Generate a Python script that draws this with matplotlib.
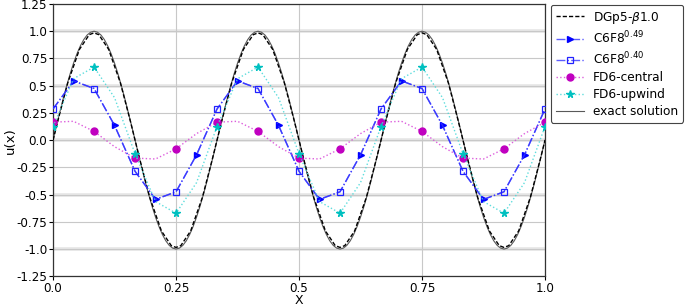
import matplotlib
matplotlib.use("Agg")
import matplotlib.pyplot as plt
import numpy as np

# ---------------- data ----------------
# exact solution (fine sampling, step 1/144)
exact_x = [i / 144 for i in range(145)]
exact_y = [
    0.000, 0.131, 0.259, 0.383, 0.500, 0.609, 0.707, 0.793, 0.866, 0.924, 0.966, 0.991,
    1.000, 0.991, 0.966, 0.924, 0.866, 0.793, 0.707, 0.609, 0.500, 0.383, 0.259, 0.131,
    0.000, -0.131, -0.259, -0.383, -0.500, -0.609, -0.707, -0.793, -0.866, -0.924, -0.966, -0.991,
    -1.000, -0.991, -0.966, -0.924, -0.866, -0.793, -0.707, -0.609, -0.500, -0.383, -0.259, -0.131,
    0.000, 0.131, 0.259, 0.383, 0.500, 0.609, 0.707, 0.793, 0.866, 0.924, 0.966, 0.991,
    1.000, 0.991, 0.966, 0.924, 0.866, 0.793, 0.707, 0.609, 0.500, 0.383, 0.259, 0.131,
    0.000, -0.131, -0.259, -0.383, -0.500, -0.609, -0.707, -0.793, -0.866, -0.924, -0.966, -0.991,
    -1.000, -0.991, -0.966, -0.924, -0.866, -0.793, -0.707, -0.609, -0.500, -0.383, -0.259, -0.131,
    0.000, 0.131, 0.259, 0.383, 0.500, 0.609, 0.707, 0.793, 0.866, 0.924, 0.966, 0.991,
    1.000, 0.991, 0.966, 0.924, 0.866, 0.793, 0.707, 0.609, 0.500, 0.383, 0.259, 0.131,
    0.000, -0.131, -0.259, -0.383, -0.500, -0.609, -0.707, -0.793, -0.866, -0.924, -0.966, -0.991,
    -1.000, -0.991, -0.966, -0.924, -0.866, -0.793, -0.707, -0.609, -0.500, -0.383, -0.259, -0.131,
    0.000,
]

# DGp5 (element nodes)
dg_x = [
    0.0, 0.0098, 0.0298, 0.0536, 0.0735,
    0.0833, 0.0931, 0.1131, 0.1369, 0.1569,
    0.1667, 0.1765, 0.1965, 0.2202, 0.2402,
    0.25, 0.2598, 0.2798, 0.3036, 0.3235,
    0.3333, 0.3431, 0.3631, 0.3869, 0.4069,
    0.4167, 0.4265, 0.4465, 0.4702, 0.4902,
    0.5, 0.5098, 0.5298, 0.5536, 0.5735,
    0.5833, 0.5931, 0.6131, 0.6369, 0.6569,
    0.6667, 0.6765, 0.6965, 0.7202, 0.7402,
    0.75, 0.7598, 0.7798, 0.8036, 0.8235,
    0.8333, 0.8431, 0.8631, 0.8869, 0.9069,
    0.9167, 0.9265, 0.9465, 0.9702, 0.9902,
    1.0,
]
dg_y = [
    0.0, 0.179, 0.525, 0.833, 0.968,
    0.985, 0.968, 0.833, 0.525, 0.179,
    0.0, -0.179, -0.525, -0.833, -0.968,
    -0.985, -0.968, -0.833, -0.525, -0.179,
    0.0, 0.179, 0.525, 0.833, 0.968,
    0.985, 0.968, 0.833, 0.525, 0.179,
    0.0, -0.179, -0.525, -0.833, -0.968,
    -0.985, -0.968, -0.833, -0.525, -0.179,
    0.0, 0.179, 0.525, 0.833, 0.968,
    0.985, 0.968, 0.833, 0.525, 0.179,
    0.0, -0.179, -0.525, -0.833, -0.968,
    -0.985, -0.968, -0.833, -0.525, -0.179,
    0.0,
]

# finite-difference grid, step 1/24
fd_x = [i / 24 for i in range(25)]
c6f8_y = [0.286, 0.544, 0.474, 0.135, -0.286, -0.544, -0.474, -0.135,
          0.286, 0.544, 0.474, 0.135, -0.286, -0.544, -0.474, -0.135,
          0.286, 0.544, 0.474, 0.135, -0.286, -0.544, -0.474, -0.135,
          0.286]
central_y = [0.165, 0.173, 0.080, -0.060, -0.165, -0.173, -0.080, 0.060,
             0.165, 0.173, 0.080, -0.060, -0.165, -0.173, -0.080, 0.060,
             0.165, 0.173, 0.080, -0.060, -0.165, -0.173, -0.080, 0.060,
             0.165]
upwind_y = [0.125, 0.564, 0.671, 0.390, -0.125, -0.564, -0.671, -0.390,
            0.125, 0.564, 0.671, 0.390, -0.125, -0.564, -0.671, -0.390,
            0.125, 0.564, 0.671, 0.390, -0.125, -0.564, -0.671, -0.390,
            0.125]

xticks = [0.0, 0.25, 0.5, 0.75, 1.0]
xtick_labels = ["0.0", "0.25", "0.5", "0.75", "1.0"]
yticks = [1.25, 1.0, 0.75, 0.5, 0.25, 0.0, -0.25, -0.5, -0.75, -1.0, -1.25]
ytick_labels = ["1.25", "1.0", "0.75", "0.5", "0.25", "0.0", "-0.25", "-0.5", "-0.75", "-1.0", "-1.25"]

labels = [r"DGp5-$\beta$1.0", r"C6F8$^{0.49}$", r"C6F8$^{0.40}$",
          "FD6-central", "FD6-upwind", "exact solution"]

# ---------------- figure ----------------
fig = plt.figure(figsize=(6.89, 3.07), dpi=100)
ax = fig.add_axes([0.077, 0.100, 0.714, 0.887])

fs = 8.6
blue_line = (0.2, 0.2, 1.0, 0.8)
mag_line = (0.85, 0.3, 0.85, 0.9)
cyan_line = (0.3, 0.85, 0.85, 0.9)

ax.plot(dg_x, dg_y, color="black", ls=(0, (3, 1.5)), lw=1.0, label=labels[0], zorder=4)
ax.plot(fd_x, c6f8_y, color=blue_line, ls="-.", lw=1.0, marker=">", ms=5,
        markevery=slice(1, None, 2), mfc="#0000ff", mec="#0000ff", label=labels[1], zorder=5)
ax.plot(fd_x, c6f8_y, color=blue_line, ls="-.", lw=1.0, marker="s", ms=4.5,
        markevery=slice(0, None, 2), mfc="none", mec="#2222ff", mew=0.9, label=labels[2], zorder=5)
ax.plot(fd_x, central_y, color=mag_line, ls=":", lw=1.0, marker="o", ms=5,
        markevery=slice(0, None, 2), mfc="#c000c0", mec="#c000c0", label=labels[3], zorder=5)
ax.plot(fd_x, upwind_y, color=cyan_line, ls=":", lw=1.0, marker="*", ms=5.5,
        markevery=slice(0, None, 2), mfc="#00c0c0", mec="#00c0c0", label=labels[4], zorder=5)
ax.plot(exact_x, exact_y, color="0.35", ls="-", lw=0.8, label=labels[5], zorder=3)

ax.set_xlim(0, 1)
ax.set_ylim(-1.25, 1.25)
ax.set_xticks(xticks)
ax.set_xticklabels(xtick_labels, fontsize=fs)
ax.set_yticks(yticks)
ax.set_yticklabels(ytick_labels, fontsize=fs)
ax.tick_params(length=3.0, width=0.8, pad=1.0)

# grid
for yv in [1.0, 0.5, 0.0, -0.5, -1.0]:
    ax.axhline(yv, color="#e6e6e6", lw=2.6, zorder=0)
ax.grid(True, color="#c8c8c8", lw=0.8, zorder=1)
ax.set_axisbelow(True)

for sp in ax.spines.values():
    sp.set_color("#333333")
    sp.set_linewidth(0.9)

ax.set_xlabel("X", fontsize=9.0, labelpad=-0.6)
ax.set_ylabel("u(x)", fontsize=9.6, labelpad=-0.5)

leg = ax.legend(loc="upper left", bbox_to_anchor=(1.012, 0.997), fontsize=8.7,
                frameon=True, fancybox=True, framealpha=1.0, edgecolor="#444444",
                borderaxespad=0.0, handlelength=2.3, handletextpad=0.8,
                labelspacing=0.33, borderpad=0.4)
leg.get_frame().set_linewidth(0.8)

fig.savefig("out.png", dpi=100)
